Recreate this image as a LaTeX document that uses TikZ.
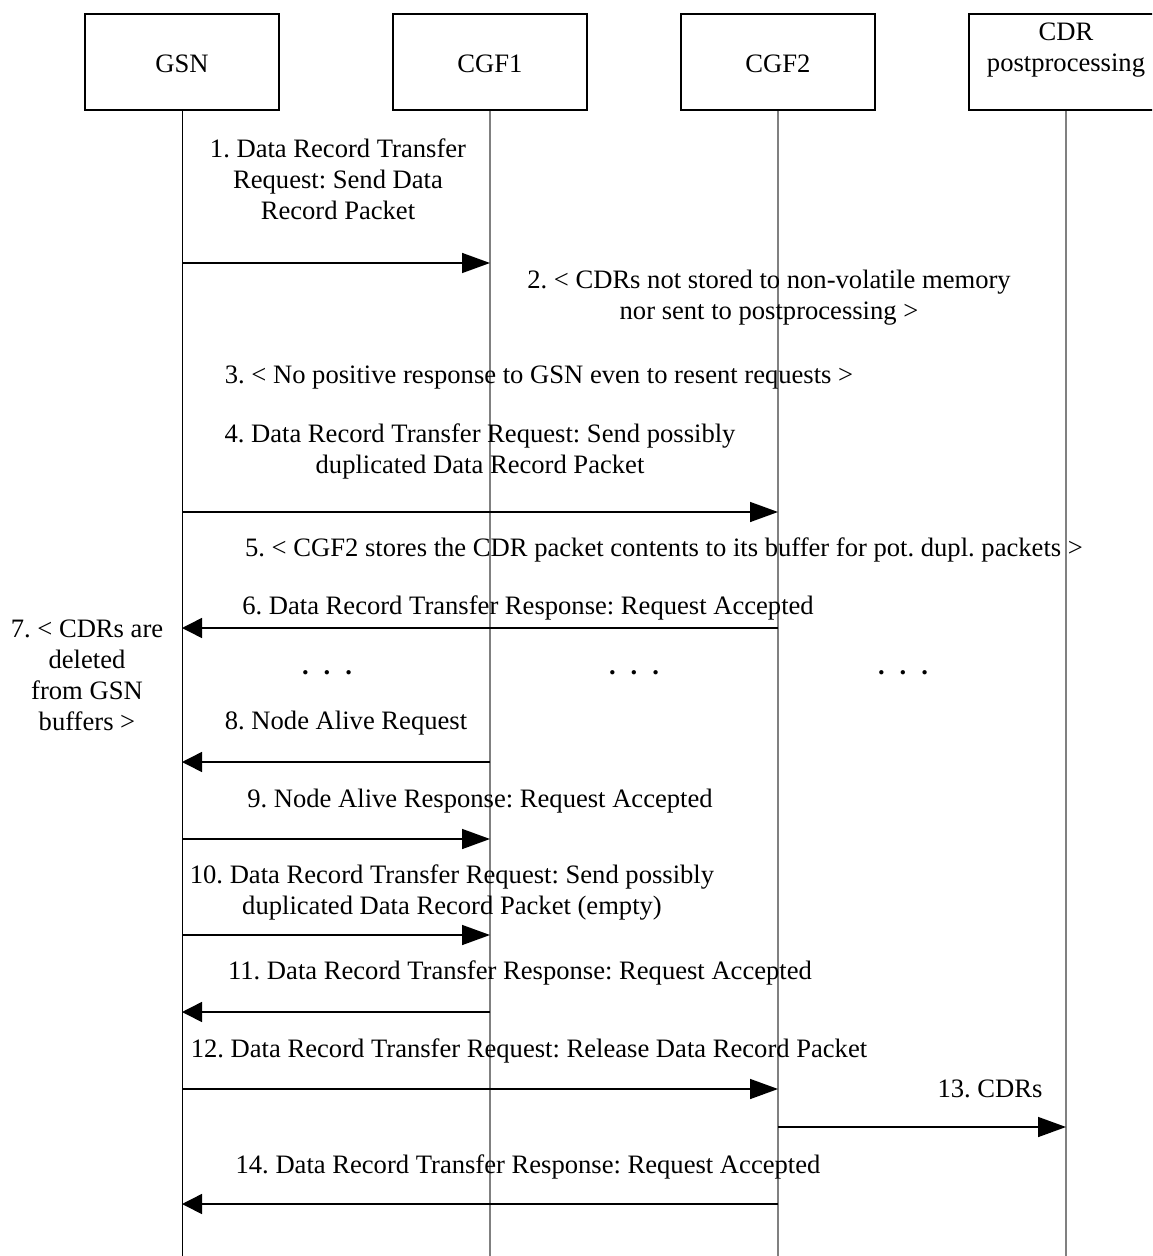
\documentclass[tikz,border=0pt]{standalone}
\usepackage{fontspec}
\setmainfont{Liberation Serif}
\usetikzlibrary{arrows.meta}
\frenchspacing
\begin{document}
\begin{tikzpicture}[x=0.5pt,y=-0.5pt,
  font=\fontsize{13.3pt}{15.5pt}\selectfont\frenchspacing,
  box/.style={draw, line width=0.9pt, minimum width=97pt, minimum height=48pt, inner sep=0pt},
  life/.style={line width=0.65pt, draw=black!50},
  lifeg/.style={line width=0.45pt, draw=black},
  msgR/.style={line width=0.75pt, -{Triangle[length=14pt,width=10pt]}},
  msgL/.style={line width=0.75pt, -{Triangle[length=10pt,width=10pt]}},
  lbl/.style={align=center, inner sep=0pt}]
\useasboundingbox (0,0) rectangle (1152,1256);
\clip (0,0) rectangle (1152,1256);
% boxes
\node[box] (gsn) at (182,62) {};
\node[box] (cgf1) at (490,62) {};
\node[box] (cgf2) at (778,62) {};
\node[box] (cdr) at (1066,62) {};
\node[lbl] (gsnt) at (182,64) {GSN};
\node[lbl] (cgf1t) at (490,64) {CGF1};
\node[lbl] (cgf2t) at (778,64) {CGF2};
\node[lbl] (cdrt) at (1066,50) {CDR\\postprocessing};
% lifelines
\coordinate (gsnE) at (182,1256);
\coordinate (cgf1E) at (490,1256);
\coordinate (cgf2E) at (778,1256);
\coordinate (cdrE) at (1066,1256);
\draw[lifeg] (gsn.south) -- (gsnE);
\draw[life] (cgf1.south) -- (cgf1E);
\draw[life] (cgf2.south) -- (cgf2E);
\draw[life] (cdr.south) -- (cdrE);
% message end points
\coordinate (g1) at (182,263);  \coordinate (c1a) at (490,263);
\coordinate (g4) at (182,512);  \coordinate (c4) at (778,512);
\coordinate (g6) at (182,628);  \coordinate (c6) at (778,628);
\coordinate (g8) at (182,762);  \coordinate (c8) at (490,762);
\coordinate (g9) at (182,839);  \coordinate (c9) at (490,839);
\coordinate (g10) at (182,935); \coordinate (c10) at (490,935);
\coordinate (g11) at (182,1012); \coordinate (c11) at (490,1012);
\coordinate (g12) at (182,1089); \coordinate (c12) at (778,1089);
\coordinate (s13) at (778,1127); \coordinate (d13) at (1066,1127);
\coordinate (g14) at (182,1204); \coordinate (c14) at (778,1204);
% messages
\draw[msgR] (g1) -- (c1a);
\draw[msgR] (g4) -- (c4);
\draw[msgL] (c6) -- (g6);
\draw[msgL] (c8) -- (g8);
\draw[msgR] (g9) -- (c9);
\draw[msgR] (g10) -- (c10);
\draw[msgL] (c11) -- (g11);
\draw[msgR] (g12) -- (c12);
\draw[msgR] (s13) -- (d13);
\draw[msgL] (c14) -- (g14);
% labels
\node[lbl] (t1) at (338,179) {1. Data Record Transfer\\Request: Send Data\\Record Packet};
\node[lbl] (t2) at (769,298) {2. < CDRs not stored to non-volatile memory\\nor sent to postprocessing >};
\node[lbl] (t3) at (539,378) {3. < No positive response to GSN even to resent requests >};
\node[lbl] (t4) at (480,451) {4. Data Record Transfer Request: Send possibly\\duplicated Data Record Packet};
\node[lbl] (t5) at (664,550) {5. < CGF2 stores the CDR packet contents to its buffer for pot. dupl. packets >};
\node[lbl] (t6) at (528,608) {6. Data Record Transfer Response: Request Accepted};
\node[lbl] (t7) at (87,675) {7. < CDRs are\\deleted\\from GSN\\buffers >};
\node[lbl] (d1) at (327,673) {\textbf{.}\hspace{7.5pt}\textbf{.}\hspace{7.5pt}\textbf{.}};
\node[lbl] (d2) at (634,673) {\textbf{.}\hspace{7.5pt}\textbf{.}\hspace{7.5pt}\textbf{.}};
\node[lbl] (d3) at (903,673) {\textbf{.}\hspace{7.5pt}\textbf{.}\hspace{7.5pt}\textbf{.}};
\node[lbl] (t8) at (346,723) {8. Node Alive Request};
\node[lbl] (t9) at (480,801) {9. Node Alive Response: Request Accepted};
\node[lbl] (t10) at (452,892) {10. Data Record Transfer Request: Send possibly\\duplicated Data Record Packet (empty)};
\node[lbl] (t11) at (520,973) {11. Data Record Transfer Response: Request Accepted};
\node[lbl] (t12) at (529,1051) {12. Data Record Transfer Request: Release Data Record Packet};
\node[lbl] (t13) at (990,1089) {13. CDRs};
\node[lbl] (t14) at (528,1167) {14. Data Record Transfer Response: Request Accepted};
\end{tikzpicture}
\end{document}
